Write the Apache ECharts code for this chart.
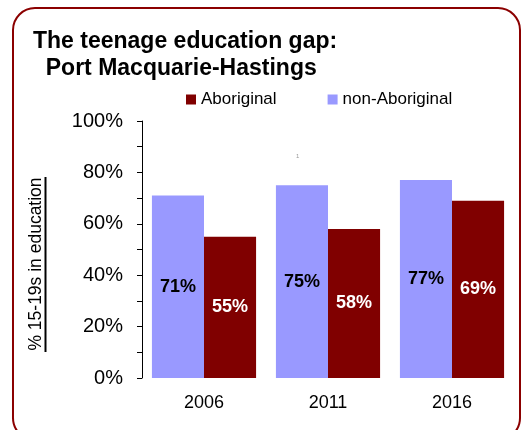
<!DOCTYPE html>
<html>
<head>
<meta charset="utf-8">
<script src="https://cdn.jsdelivr.net/npm/echarts@6/dist/echarts.min.js"></script>
<style>
html, body { margin: 0; padding: 0; background: #fff; }
#main { width: 532px; height: 430px; }
</style>
</head>
<body>
<div id="main"></div>
<script>
var years = ['2006', '2011', '2016'];
var nonAboriginal = [71, 75, 77];
var aboriginal = [55, 58, 69];
var yTicks = [0, 20, 40, 60, 80, 100];

var myChart = echarts.init(document.getElementById('main'));
var font = 'Liberation Sans, Arial, sans-serif';

var option = {
    backgroundColor: '#fff',
    textStyle: { fontFamily: font },
    animation: false,
    title: {
        text: 'The teenage education gap:\n  Port Macquarie-Hastings',
        left: 28,
        top: 23,
        textStyle: { fontSize: 23, fontWeight: 'bold', color: '#000', lineHeight: 27, fontFamily: font }
    },
    legend: {
        data: ['Aboriginal', 'non-Aboriginal'],
        left: 186,
        top: 91,
        padding: 0,
        itemWidth: 10,
        itemHeight: 10,
        itemGap: 51,
        icon: 'rect',
        textStyle: { fontSize: 17, color: '#000' }
    },
    grid: { left: 142, right: 18, top: 121, bottom: 52 },
    xAxis: {
        type: 'category',
        data: years,
        axisLine: { show: false },
        axisTick: { show: false },
        axisLabel: { fontSize: 18, color: '#000', margin: 16 }
    },
    yAxis: {
        type: 'value',
        min: 0,
        max: 100,
        interval: 10,
        axisLine: { show: true, lineStyle: { color: '#000', width: 1 } },
        axisTick: { show: true, length: 5, lineStyle: { color: '#000' } },
        splitLine: { show: false },
        axisLabel: {
            fontSize: 20,
            color: '#000',
            margin: 19,
            formatter: function (v) {
                return yTicks.indexOf(v) >= 0 ? v + '%' : '';
            }
        }
    },
    series: [
        {
            name: 'non-Aboriginal',
            type: 'bar',
            data: nonAboriginal,
            barGap: '0%',
            barCategoryGap: '16%',
            itemStyle: { color: '#9999FF' },
            label: {
                show: true,
                position: 'inside',
                formatter: '{c}%',
                fontSize: 18,
                fontWeight: 'bold',
                color: '#000'
            }
        },
        {
            name: 'Aboriginal',
            type: 'bar',
            data: aboriginal,
            barGap: '0%',
            barCategoryGap: '16%',
            itemStyle: { color: '#800000' },
            label: {
                show: true,
                position: 'inside',
                formatter: '{c}%',
                fontSize: 18,
                fontWeight: 'bold',
                color: '#fff'
            }
        }
    ],
    graphic: [
        {
            type: 'rect',
            shape: { x: 13, y: 8, width: 507, height: 432, r: 22 },
            style: { fill: 'none', stroke: '#8B0000', lineWidth: 2 },
            z: 10
        },
        {
            type: 'text',
            x: 36,
            y: 264,
            rotation: Math.PI / 2,
            style: {
                text: '% 15-19s in education',
                fontSize: 17.5,
                fontFamily: font,
                fill: '#000',
                align: 'center',
                verticalAlign: 'middle'
            }
        },
        {
            type: 'line',
            shape: { x1: 45.5, y1: 177, x2: 45.5, y2: 352 },
            style: { stroke: '#000', lineWidth: 2 }
        },
        {
            type: 'text',
            x: 296,
            y: 153,
            style: { text: '1', fontSize: 6, fill: '#999' }
        }
    ]
};

myChart.setOption(option);
</script>
</body>
</html>
